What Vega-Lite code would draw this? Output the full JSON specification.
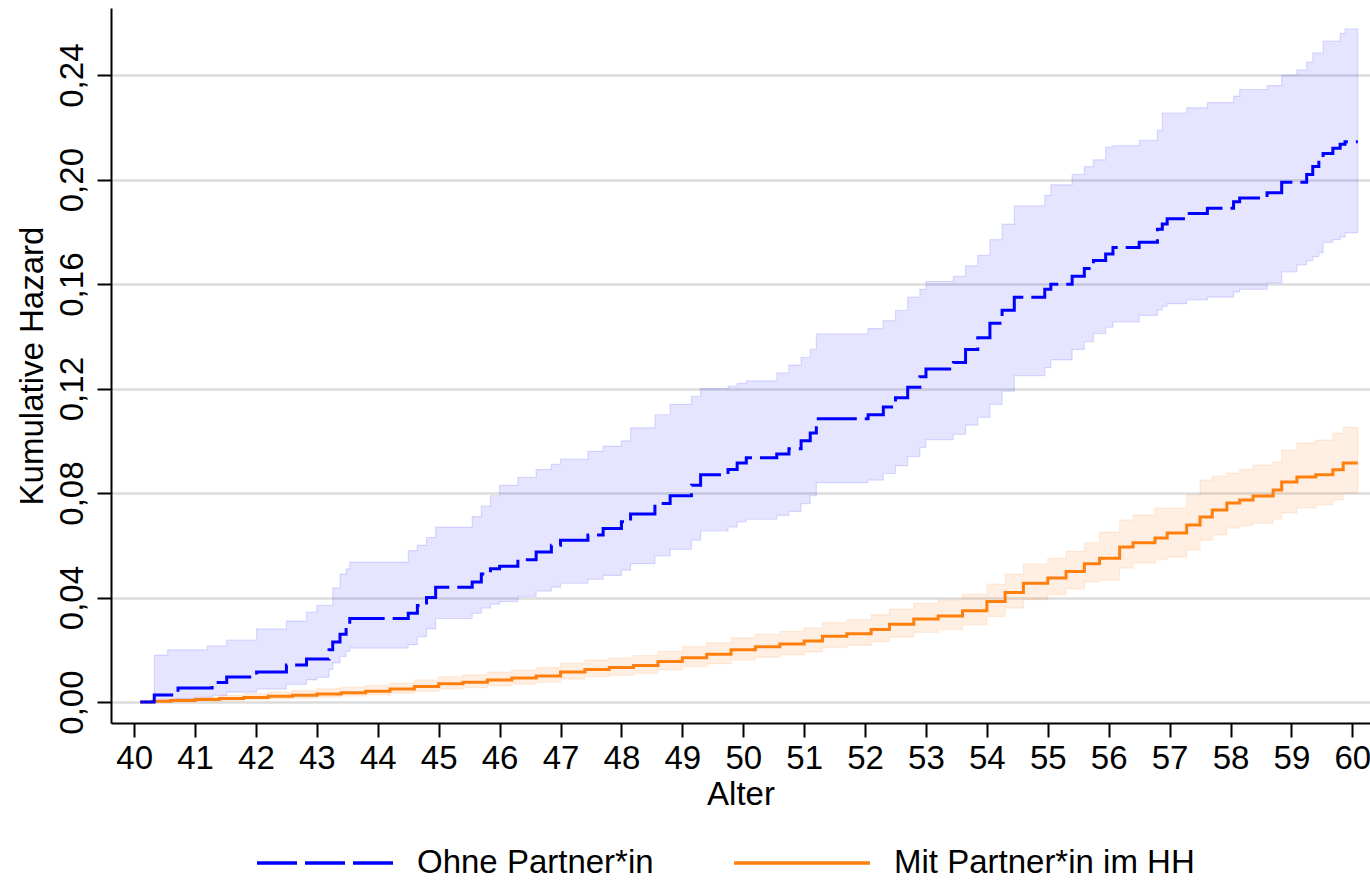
{
  "$schema": "https://vega.github.io/schema/vega-lite/v6.json",
  "width": 1259,
  "height": 715,
  "autosize": {"type": "none"},
  "padding": {"left": 111, "top": 8, "right": 0, "bottom": 159},
  "background": "white",
  "config": {
    "font": "Liberation Sans",
    "view": {"stroke": null},
    "legend": {"padding": 0}
  },
  "datasets": {
    "ohne": [
      {"x": 40.10, "y": 0, "lo": 0, "hi": 0},
      {"x": 40.33, "y": 0.0027, "lo": 0.0004, "hi": 0.018},
      {"x": 40.55, "y": 0.0027, "lo": 0.0004, "hi": 0.020},
      {"x": 40.72, "y": 0.0054, "lo": 0.0014, "hi": 0.020},
      {"x": 41.20, "y": 0.0054, "lo": 0.0016, "hi": 0.0215},
      {"x": 41.28, "y": 0.0075, "lo": 0.0026, "hi": 0.0215},
      {"x": 41.52, "y": 0.0096, "lo": 0.0038, "hi": 0.0237},
      {"x": 42.01, "y": 0.0115, "lo": 0.0050, "hi": 0.028},
      {"x": 42.50, "y": 0.0142, "lo": 0.0068, "hi": 0.031},
      {"x": 42.83, "y": 0.0165, "lo": 0.0085, "hi": 0.0345},
      {"x": 43.00, "y": 0.0165, "lo": 0.0095, "hi": 0.037},
      {"x": 43.20, "y": 0.0200, "lo": 0.0125, "hi": 0.037},
      {"x": 43.26, "y": 0.0230, "lo": 0.0150, "hi": 0.0437},
      {"x": 43.38, "y": 0.0260, "lo": 0.0175, "hi": 0.049},
      {"x": 43.48, "y": 0.0290, "lo": 0.0195, "hi": 0.051},
      {"x": 43.54, "y": 0.0320, "lo": 0.0207, "hi": 0.0536},
      {"x": 44.50, "y": 0.0340, "lo": 0.0220, "hi": 0.058},
      {"x": 44.65, "y": 0.0370, "lo": 0.0250, "hi": 0.060},
      {"x": 44.80, "y": 0.0400, "lo": 0.0280, "hi": 0.063},
      {"x": 44.95, "y": 0.0440, "lo": 0.0320, "hi": 0.067},
      {"x": 45.55, "y": 0.0460, "lo": 0.0340, "hi": 0.071},
      {"x": 45.70, "y": 0.0490, "lo": 0.0360, "hi": 0.075},
      {"x": 45.85, "y": 0.0510, "lo": 0.0375, "hi": 0.079},
      {"x": 46.00, "y": 0.0520, "lo": 0.0385, "hi": 0.083},
      {"x": 46.30, "y": 0.0545, "lo": 0.0405, "hi": 0.086},
      {"x": 46.60, "y": 0.0575, "lo": 0.0425, "hi": 0.089},
      {"x": 46.85, "y": 0.0600, "lo": 0.0440, "hi": 0.091},
      {"x": 47.00, "y": 0.0620, "lo": 0.0455, "hi": 0.093},
      {"x": 47.45, "y": 0.0640, "lo": 0.0470, "hi": 0.096},
      {"x": 47.70, "y": 0.0665, "lo": 0.0485, "hi": 0.098},
      {"x": 48.00, "y": 0.0690, "lo": 0.0505, "hi": 0.100},
      {"x": 48.15, "y": 0.0720, "lo": 0.0530, "hi": 0.105},
      {"x": 48.55, "y": 0.0760, "lo": 0.0560, "hi": 0.110},
      {"x": 48.80, "y": 0.0790, "lo": 0.0585, "hi": 0.114},
      {"x": 49.15, "y": 0.0830, "lo": 0.0620, "hi": 0.117},
      {"x": 49.30, "y": 0.0870, "lo": 0.0655, "hi": 0.120},
      {"x": 49.75, "y": 0.0890, "lo": 0.0670, "hi": 0.121},
      {"x": 49.90, "y": 0.0915, "lo": 0.0690, "hi": 0.122},
      {"x": 50.05, "y": 0.0935, "lo": 0.0700, "hi": 0.123},
      {"x": 50.55, "y": 0.0950, "lo": 0.0715, "hi": 0.126},
      {"x": 50.75, "y": 0.0970, "lo": 0.0730, "hi": 0.129},
      {"x": 50.95, "y": 0.1000, "lo": 0.0760, "hi": 0.132},
      {"x": 51.10, "y": 0.1030, "lo": 0.0790, "hi": 0.135},
      {"x": 51.20, "y": 0.1085, "lo": 0.0840, "hi": 0.141},
      {"x": 52.05, "y": 0.1100, "lo": 0.0850, "hi": 0.143},
      {"x": 52.30, "y": 0.1130, "lo": 0.0875, "hi": 0.146},
      {"x": 52.50, "y": 0.1165, "lo": 0.0905, "hi": 0.150},
      {"x": 52.70, "y": 0.1205, "lo": 0.0940, "hi": 0.155},
      {"x": 52.90, "y": 0.1245, "lo": 0.0975, "hi": 0.158},
      {"x": 53.00, "y": 0.1275, "lo": 0.1005, "hi": 0.161},
      {"x": 53.45, "y": 0.1300, "lo": 0.1025, "hi": 0.163},
      {"x": 53.65, "y": 0.1350, "lo": 0.1060, "hi": 0.167},
      {"x": 53.85, "y": 0.1395, "lo": 0.1090, "hi": 0.171},
      {"x": 54.05, "y": 0.1450, "lo": 0.1140, "hi": 0.177},
      {"x": 54.25, "y": 0.1500, "lo": 0.1190, "hi": 0.183},
      {"x": 54.45, "y": 0.1550, "lo": 0.1250, "hi": 0.190},
      {"x": 54.95, "y": 0.1580, "lo": 0.1280, "hi": 0.194},
      {"x": 55.05, "y": 0.1600, "lo": 0.1310, "hi": 0.198},
      {"x": 55.40, "y": 0.1630, "lo": 0.1350, "hi": 0.202},
      {"x": 55.60, "y": 0.1660, "lo": 0.1380, "hi": 0.205},
      {"x": 55.75, "y": 0.1690, "lo": 0.1410, "hi": 0.2076},
      {"x": 55.95, "y": 0.1715, "lo": 0.1435, "hi": 0.2125},
      {"x": 56.07, "y": 0.1740, "lo": 0.1455, "hi": 0.213},
      {"x": 56.50, "y": 0.1760, "lo": 0.1480, "hi": 0.215},
      {"x": 56.80, "y": 0.1810, "lo": 0.1500, "hi": 0.219},
      {"x": 56.88, "y": 0.1830, "lo": 0.1515, "hi": 0.2255},
      {"x": 56.96, "y": 0.1850, "lo": 0.1525, "hi": 0.2255},
      {"x": 57.28, "y": 0.1870, "lo": 0.1540, "hi": 0.2275},
      {"x": 57.62, "y": 0.1890, "lo": 0.1550, "hi": 0.2295},
      {"x": 58.05, "y": 0.1915, "lo": 0.1570, "hi": 0.232},
      {"x": 58.15, "y": 0.1930, "lo": 0.1580, "hi": 0.2345},
      {"x": 58.60, "y": 0.1950, "lo": 0.1605, "hi": 0.236},
      {"x": 58.84, "y": 0.1990, "lo": 0.1647, "hi": 0.240},
      {"x": 59.09, "y": 0.1990, "lo": 0.1674, "hi": 0.242},
      {"x": 59.25, "y": 0.2020, "lo": 0.1690, "hi": 0.245},
      {"x": 59.35, "y": 0.2050, "lo": 0.1705, "hi": 0.2485},
      {"x": 59.45, "y": 0.2080, "lo": 0.1720, "hi": 0.2485},
      {"x": 59.52, "y": 0.2100, "lo": 0.1760, "hi": 0.253},
      {"x": 59.68, "y": 0.2120, "lo": 0.1770, "hi": 0.253},
      {"x": 59.80, "y": 0.2135, "lo": 0.1780, "hi": 0.256},
      {"x": 59.88, "y": 0.2145, "lo": 0.1796, "hi": 0.2577},
      {"x": 60.09, "y": 0.2145, "lo": 0.1796, "hi": 0.2577}
    ],
    "mit": [
      {"x": 40.10, "y": 0, "lo": 0, "hi": 0},
      {"x": 40.30, "y": 0.0003, "lo": 0.0001, "hi": 0.0008},
      {"x": 40.60, "y": 0.0006, "lo": 0.0002, "hi": 0.0013},
      {"x": 41.00, "y": 0.0010, "lo": 0.0004, "hi": 0.0020},
      {"x": 41.40, "y": 0.0014, "lo": 0.0006, "hi": 0.0026},
      {"x": 41.80, "y": 0.0018, "lo": 0.0009, "hi": 0.0032},
      {"x": 42.20, "y": 0.0022, "lo": 0.0012, "hi": 0.0038},
      {"x": 42.60, "y": 0.0026, "lo": 0.0015, "hi": 0.0044},
      {"x": 43.00, "y": 0.0031, "lo": 0.0019, "hi": 0.0051},
      {"x": 43.40, "y": 0.0036, "lo": 0.0023, "hi": 0.0057},
      {"x": 43.80, "y": 0.0042, "lo": 0.0028, "hi": 0.0064},
      {"x": 44.20, "y": 0.0050, "lo": 0.0034, "hi": 0.0073},
      {"x": 44.60, "y": 0.0060, "lo": 0.0042, "hi": 0.0085},
      {"x": 45.00, "y": 0.0070, "lo": 0.0050, "hi": 0.0097},
      {"x": 45.40, "y": 0.0076, "lo": 0.0055, "hi": 0.0104},
      {"x": 45.80, "y": 0.0085, "lo": 0.0063, "hi": 0.0115},
      {"x": 46.20, "y": 0.0092, "lo": 0.0069, "hi": 0.0123},
      {"x": 46.60, "y": 0.0100, "lo": 0.0076, "hi": 0.0132},
      {"x": 47.00, "y": 0.0115, "lo": 0.0088, "hi": 0.0149},
      {"x": 47.40, "y": 0.0125, "lo": 0.0097, "hi": 0.0161},
      {"x": 47.80, "y": 0.0132, "lo": 0.0103, "hi": 0.0169},
      {"x": 48.20, "y": 0.0140, "lo": 0.0110, "hi": 0.0178},
      {"x": 48.60, "y": 0.0155, "lo": 0.0123, "hi": 0.0195},
      {"x": 49.00, "y": 0.0170, "lo": 0.0136, "hi": 0.0212},
      {"x": 49.40, "y": 0.0183, "lo": 0.0147, "hi": 0.0227},
      {"x": 49.80, "y": 0.0200, "lo": 0.0162, "hi": 0.0246},
      {"x": 50.20, "y": 0.0212, "lo": 0.0172, "hi": 0.0259},
      {"x": 50.60, "y": 0.0222, "lo": 0.0181, "hi": 0.0271},
      {"x": 51.00, "y": 0.0234, "lo": 0.0192, "hi": 0.0284},
      {"x": 51.30, "y": 0.0252, "lo": 0.0208, "hi": 0.0304},
      {"x": 51.70, "y": 0.0262, "lo": 0.0217, "hi": 0.0316},
      {"x": 52.10, "y": 0.0278, "lo": 0.0231, "hi": 0.0334},
      {"x": 52.40, "y": 0.0298, "lo": 0.0249, "hi": 0.0356},
      {"x": 52.80, "y": 0.0318, "lo": 0.0267, "hi": 0.0378},
      {"x": 53.20, "y": 0.0330, "lo": 0.0278, "hi": 0.0391},
      {"x": 53.60, "y": 0.0350, "lo": 0.0296, "hi": 0.0413},
      {"x": 54.00, "y": 0.0385, "lo": 0.0328, "hi": 0.0452},
      {"x": 54.30, "y": 0.0420, "lo": 0.0360, "hi": 0.0490},
      {"x": 54.60, "y": 0.0455, "lo": 0.0392, "hi": 0.0528},
      {"x": 55.00, "y": 0.0475, "lo": 0.0410, "hi": 0.0550},
      {"x": 55.30, "y": 0.0500, "lo": 0.0433, "hi": 0.0577},
      {"x": 55.60, "y": 0.0530, "lo": 0.0460, "hi": 0.0610},
      {"x": 55.85, "y": 0.0551, "lo": 0.0467, "hi": 0.0651},
      {"x": 56.18, "y": 0.0594, "lo": 0.0513, "hi": 0.0697},
      {"x": 56.40, "y": 0.0610, "lo": 0.0532, "hi": 0.0716},
      {"x": 56.76, "y": 0.0628, "lo": 0.0545, "hi": 0.0743},
      {"x": 56.96, "y": 0.0647, "lo": 0.0555, "hi": 0.0743},
      {"x": 57.28, "y": 0.0678, "lo": 0.0582, "hi": 0.0793},
      {"x": 57.50, "y": 0.0709, "lo": 0.0620, "hi": 0.0850},
      {"x": 57.70, "y": 0.0735, "lo": 0.0640, "hi": 0.0865},
      {"x": 57.94, "y": 0.0762, "lo": 0.0666, "hi": 0.0877},
      {"x": 58.15, "y": 0.0774, "lo": 0.0675, "hi": 0.0890},
      {"x": 58.37, "y": 0.0789, "lo": 0.0685, "hi": 0.0908},
      {"x": 58.70, "y": 0.0812, "lo": 0.0700, "hi": 0.0919},
      {"x": 58.84, "y": 0.0843, "lo": 0.0724, "hi": 0.0965},
      {"x": 59.09, "y": 0.0862, "lo": 0.0743, "hi": 0.0992},
      {"x": 59.40, "y": 0.0870, "lo": 0.0755, "hi": 0.1003},
      {"x": 59.68, "y": 0.0889, "lo": 0.0774, "hi": 0.1030},
      {"x": 59.85, "y": 0.0915, "lo": 0.0800, "hi": 0.1053},
      {"x": 60.09, "y": 0.0915, "lo": 0.0800, "hi": 0.1053}
    ]
  },
  "layer": [
    {
      "data": {"name": "ohne"},
      "mark": {"type": "area", "interpolate": "step-after", "fill": "#0000ff", "fillOpacity": 0.1, "stroke": "#0000ff", "strokeOpacity": 0.12, "strokeWidth": 1.2},
      "encoding": {
        "x": {"field": "x", "type": "quantitative"},
        "y": {"field": "lo", "type": "quantitative"},
        "y2": {"field": "hi"}
      }
    },
    {
      "data": {"name": "mit"},
      "mark": {"type": "area", "interpolate": "step-after", "fill": "#ff7f0e", "fillOpacity": 0.12, "stroke": "#ff7f0e", "strokeOpacity": 0.12, "strokeWidth": 1.2},
      "encoding": {
        "x": {"field": "x", "type": "quantitative"},
        "y": {"field": "lo", "type": "quantitative"},
        "y2": {"field": "hi"}
      }
    },
    {
      "data": {"name": "mit"},
      "transform": [{"calculate": "'Mit Partner*in im HH'", "as": "g"}],
      "mark": {"type": "line", "interpolate": "step-after", "strokeWidth": 3},
      "encoding": {
        "x": {"field": "x", "type": "quantitative"},
        "y": {"field": "y", "type": "quantitative"},
        "color": {"field": "g", "type": "nominal"},
        "strokeDash": {"field": "g", "type": "nominal"}
      }
    },
    {
      "data": {"name": "ohne"},
      "transform": [{"calculate": "'Ohne Partner*in'", "as": "g"}],
      "mark": {"type": "line", "interpolate": "step-after", "strokeWidth": 3},
      "encoding": {
        "x": {
          "field": "x", "type": "quantitative",
          "scale": {"domain": [39.62, 60.29], "nice": false, "zero": false},
          "axis": {
            "title": "Alter",
            "values": [40,41,42,43,44,45,46,47,48,49,50,51,52,53,54,55,56,57,58,59,60],
            "format": "d",
            "grid": false,
            "domainColor": "black", "domainWidth": 2,
            "tickColor": "black", "tickWidth": 2, "tickSize": 14,
            "labelFontSize": 33, "labelColor": "black", "labelPadding": 5,
            "labelFlush": false, "labelOverlap": false,
            "titleFontSize": 33, "titleFontWeight": "normal", "titleColor": "black", "titlePadding": 3
          }
        },
        "y": {
          "field": "y", "type": "quantitative",
          "scale": {"domain": [-0.008, 0.2657], "nice": false, "zero": false},
          "axis": {
            "title": "Kumulative Hazard",
            "values": [0, 0.04, 0.08, 0.12, 0.16, 0.2, 0.24],
            "labelExpr": "replace(format(datum.value, '.2f'), '.', ',')",
            "grid": true, "gridColor": "#dcdcdc", "gridWidth": 2.5,
            "domainColor": "black", "domainWidth": 2,
            "tickColor": "black", "tickWidth": 2, "tickSize": 14,
            "labelFontSize": 33, "labelColor": "black", "labelPadding": 8,
            "labelAngle": 270, "labelAlign": "center", "labelBaseline": "bottom",
            "labelFlush": false, "labelOverlap": false,
            "titleFontSize": 33, "titleFontWeight": "normal", "titleColor": "black", "titlePadding": 7
          }
        },
        "color": {
          "field": "g", "type": "nominal",
          "scale": {"domain": ["Ohne Partner*in", "Mit Partner*in im HH"], "range": ["#0000ff", "#ff7f0e"]},
          "legend": {
            "title": null, "orient": "none", "legendX": 144, "legendY": 838,
            "direction": "horizontal", "columns": 2, "columnPadding": 78,
            "symbolType": "stroke", "symbolSize": 18496, "symbolStrokeWidth": 3.5,
            "clipHeight": 34, "labelOffset": 22, "labelFontSize": 33, "labelColor": "black", "labelLimit": 600
          }
        },
        "strokeDash": {
          "field": "g", "type": "nominal",
          "scale": {"domain": ["Ohne Partner*in", "Mit Partner*in im HH"], "range": [[40, 8], [1, 0]]},
          "legend": {
            "title": null, "orient": "none", "legendX": 144, "legendY": 838,
            "direction": "horizontal", "columns": 2, "columnPadding": 78,
            "symbolType": "stroke", "symbolSize": 18496, "symbolStrokeWidth": 3.5,
            "clipHeight": 34, "labelOffset": 22, "labelFontSize": 33, "labelColor": "black", "labelLimit": 600
          }
        }
      }
    }
  ]
}
